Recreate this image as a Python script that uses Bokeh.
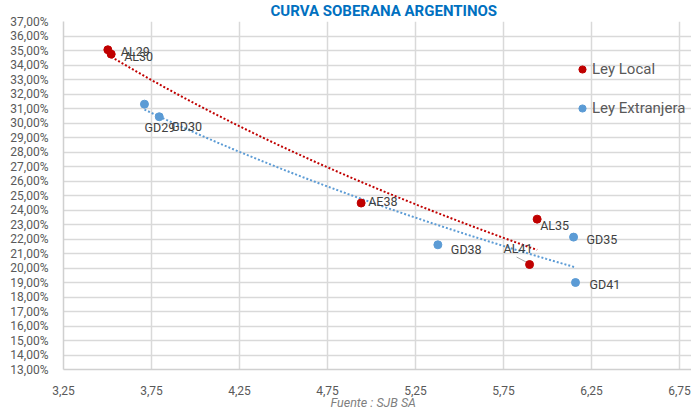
import numpy as np
from bokeh.plotting import figure
from bokeh.models import (ColumnDataSource, FixedTicker, Legend, LegendItem,
                          Range1d, Title)
from bokeh.core.properties import value
from bokeh.embed import file_html
from bokeh.resources import INLINE

# ---------------- data ----------------
local_names = ["AL29", "AL30", "AE38", "AL35", "AL41"]
local_x = [3.502, 3.521, 4.941, 5.941, 5.898]
local_y = [35.05, 34.75, 24.48, 23.37, 20.24]

ext_names = ["GD29", "GD30", "GD38", "GD35", "GD41"]
ext_x = [3.710, 3.794, 5.377, 6.148, 6.159]
ext_y = [31.30, 30.43, 21.60, 22.13, 19.00]

x_ticks = [3.25, 3.75, 4.25, 4.75, 5.25, 5.75, 6.25, 6.75]
x_tick_labels = ["3,25", "3,75", "4,25", "4,75", "5,25", "5,75", "6,25", "6,75"]
y_ticks = list(range(13, 38))
y_tick_labels = ["%d,00%%" % t for t in y_ticks]

title_text = "CURVA SOBERANA ARGENTINOS"
source_text = "Fuente : SJB SA"
series_names = ["Ley Local", "Ley Extranjera"]

# ---------------- label layout (pixel offsets, not data) ----------------
local_lbl_dx = [13, 13, 7, 3, -26]
local_lbl_dy = [2, 2, -2, 6, -16]
ext_lbl_dx = [0, 12, 13, 13, 14]
ext_lbl_dy = [23, 10, 5, 2, 2]

RED = "#C00000"
BLUE = "#5B9BD5"
FONT = "Roboto"

W, H = 691, 410
BL, BT, BB = 63, 21, 41
X0, X1 = 3.25, 6.818
Y0, Y1 = 13, 37

p = figure(width=W, height=H, output_backend="svg", toolbar_location=None,
           x_range=Range1d(X0, X1), y_range=Range1d(Y0, Y1),
           min_border_left=BL, min_border_right=0, min_border_top=BT,
           min_border_bottom=BB, background_fill_color="white",
           border_fill_color="white", outline_line_color=None)

frame_w = W - BL
frame_h = H - BT - BB
px_x = frame_w / (X1 - X0)
px_y = frame_h / (Y1 - Y0)

# axes
p.xaxis.ticker = FixedTicker(ticks=x_ticks)
p.xaxis.major_label_overrides = dict(zip(x_ticks, x_tick_labels))
p.yaxis.ticker = FixedTicker(ticks=y_ticks)
p.yaxis.major_label_overrides = dict(zip(y_ticks, y_tick_labels))
for ax in (p.xaxis, p.yaxis):
    ax.major_tick_line_color = None
    ax.minor_tick_line_color = None
    ax.axis_line_color = "#D0D0D0"
    ax.axis_line_width = 1.5
    ax.major_label_text_font = FONT
    ax.major_label_text_font_size = "12px"
    ax.major_label_text_color = "#595959"
p.xaxis.major_label_standoff = 10
p.yaxis.major_label_standoff = 9
p.xgrid.grid_line_color = "#D9D9D9"
p.ygrid.grid_line_color = "#D9D9D9"
p.xgrid.grid_line_width = 1.5
p.ygrid.grid_line_width = 1.5


def log_trend(xs, ys):
    lx = np.log(np.asarray(xs))
    a, b = np.polyfit(lx, np.asarray(ys), 1)
    tx = np.linspace(min(xs), max(xs), 60)
    return tx, a * np.log(tx) + b


tx, ty = log_trend(local_x, local_y)
p.line(tx, ty, line_color=RED, line_width=2, line_dash="2 2")
tx, ty = log_trend(ext_x, ext_y)
p.line(tx, ty, line_color=BLUE, line_width=2, line_dash="2 2")

src_l = ColumnDataSource(dict(x=local_x, y=local_y, name=local_names,
                              dx=local_lbl_dx, dy=local_lbl_dy))
src_e = ColumnDataSource(dict(x=ext_x, y=ext_y, name=ext_names,
                              dx=ext_lbl_dx, dy=ext_lbl_dy))

# leader line for AL41
i41 = local_names.index("AL41")
p.segment(x0=[local_x[i41] - 13 / px_x], y0=[local_y[i41] + 7.5 / px_y],
          x1=[local_x[i41] - 1.5 / px_x], y1=[local_y[i41] + 1.5 / px_y],
          line_color="#A6A6A6", line_width=1)

r_l = p.scatter("x", "y", source=src_l, size=8, fill_color=RED, line_color=RED)
r_e = p.scatter("x", "y", source=src_e, size=8, fill_color=BLUE, line_color=BLUE)

for src in (src_l, src_e):
    p.text("x", "y", text="name", source=src, x_offset="dx", y_offset="dy",
           text_font=value(FONT), text_font_size="12.5px", text_color="#404040",
           text_align="left", text_baseline="middle")

legend = Legend(items=[LegendItem(label=series_names[0], renderers=[r_l]),
                       LegendItem(label=series_names[1], renderers=[r_e])],
                location=(510, 251), orientation="vertical",
                glyph_width=18, glyph_height=18, label_height=20,
                label_standoff=1, spacing=19, padding=0, margin=0,
                border_line_color=None, background_fill_alpha=0,
                label_text_font=FONT, label_text_font_size="15px",
                label_text_color="#595959")
p.add_layout(legend, "center")

p.add_layout(Title(text=title_text, align="left", offset=207, standoff=0,
                   text_font=FONT, text_font_size="15px", text_font_style="bold",
                   text_color="#0070C0", vertical_align="top"), "above")
p.add_layout(Title(text=source_text, align="left", offset=267, standoff=-6,
                   text_font=FONT, text_font_size="12.5px", text_font_style="italic",
                   text_color="#7F7F7F", vertical_align="top"), "below")

open("out.html", "w").write(file_html(p, INLINE))
